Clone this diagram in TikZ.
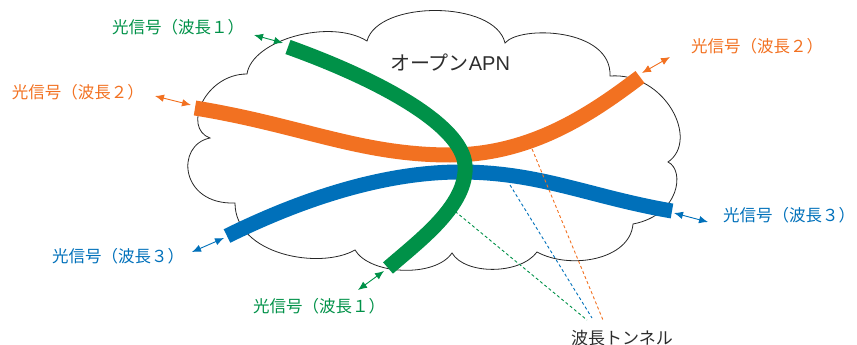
\documentclass[tikz,border=0pt]{standalone}
\usepackage{fontspec}
\newfontfamily\jpfont{Noto Sans CJK JP}
\newfontfamily\latinsans{Liberation Sans}
\usetikzlibrary{arrows.meta}
\definecolor{fibergreen}{RGB}{0,145,72}
\definecolor{fiberorange}{RGB}{242,113,33}
\definecolor{fiberblue}{RGB}{0,112,186}
\definecolor{textgray}{RGB}{45,45,45}
\begin{document}
\begin{tikzpicture}[x=1pt,y=-1pt,
  fiber/.style={line width=15pt},
  port/.style={line width=0.9pt,{Latex[length=9pt,width=7.5pt]}-{Latex[length=9pt,width=7.5pt]}},
  tunnel/.style={line width=0.9pt,dash pattern=on 3pt off 2.5pt},
  siglabel/.style={font=\jpfont\fontsize{16.5}{19}\selectfont,inner sep=0pt},
  cloudline/.style={line width=0.8pt,draw=black!85}
]
\useasboundingbox (0,0) rectangle (857,345);

% cloud outline, bump by bump, clockwise from the upper left
\draw[cloudline] (247,74)
  .. controls (252,40) and (330,18) .. (367,41)
  .. controls (378,0) and (495,0) .. (505,43)
  .. controls (520,25) and (612,28) .. (610,76)
  .. controls (665,72) and (700,140) .. (668,162)
  .. controls (685,170) and (680,215) .. (633,224)
  .. controls (630,260) and (570,270) .. (537,252)
  .. controls (520,275) and (465,275) .. (452,253)
  .. controls (435,278) and (370,275) .. (355,250)
  .. controls (320,270) and (235,255) .. (235,203)
  .. controls (180,205) and (175,145) .. (210,138)
  .. controls (182,128) and (205,74) .. cycle;

\node[font=\jpfont\fontsize{20}{24}\selectfont,text=textgray,inner sep=0pt] (title) at (450,63) {オープン{\latinsans APN}};

% optical paths through the network
\draw[fiber,fiberorange] (195,108) .. controls (300,125) and (360,155) .. (450,155)
  .. controls (530,155) and (590,115) .. (640,77);
\draw[fiber,fiberblue] (227,236) .. controls (310,195) and (390,172) .. (460,172)
  .. controls (540,172) and (590,197) .. (672,211);
\draw[fiber,fibergreen] (288,47) .. controls (380,80) and (462,125) .. (465,165)
  .. controls (468,205) and (420,240) .. (388,268);

% signal labels and their ports
\node[siglabel,text=fibergreen] (g1lab) at (178,27) {光信号（波長１）};
\node[siglabel,text=fibergreen] (g2lab) at (319,306) {光信号（波長１）};
\node[siglabel,text=fiberorange] (o1lab) at (78,92) {光信号（波長２）};
\node[siglabel,text=fiberorange] (o2lab) at (757,46) {光信号（波長２）};
\node[siglabel,text=fiberblue] (b1lab) at (118,256) {光信号（波長３）};
\node[siglabel,text=fiberblue] (b2lab) at (789,215) {光信号（波長３）};

\coordinate (g1a) at (254,35);  \coordinate (g1b) at (283,43);
\coordinate (g2a) at (358,290); \coordinate (g2b) at (384,271);
\coordinate (o1a) at (155,96);  \coordinate (o1b) at (191,105);
\coordinate (o2a) at (642,73);  \coordinate (o2b) at (670,57);
\coordinate (b1a) at (192,252); \coordinate (b1b) at (224,238);
\coordinate (b2a) at (674,213); \coordinate (b2b) at (708,222);

\draw[port,fibergreen] (g1a) -- (g1b);
\draw[port,fibergreen] (g2a) -- (g2b);
\draw[port,fiberorange] (o1a) -- (o1b);
\draw[port,fiberorange] (o2a) -- (o2b);
\draw[port,fiberblue] (b1a) -- (b1b);
\draw[port,fiberblue] (b2a) -- (b2b);

% wavelength tunnels
\node[font=\jpfont\fontsize{17}{20}\selectfont,text=textgray,inner sep=0pt] (tunnel) at (622,338) {波長トンネル};
\coordinate (gt) at (451,208); \coordinate (gtend) at (587,320);
\coordinate (bt) at (510,185); \coordinate (btend) at (592,318);
\coordinate (ot) at (530,144); \coordinate (otend) at (603,320);
\draw[tunnel,fibergreen] (gt) -- (gtend);
\draw[tunnel,fiberblue] (bt) -- (btend);
\draw[tunnel,fiberorange] (ot) -- (otend);
\end{tikzpicture}
\end{document}
